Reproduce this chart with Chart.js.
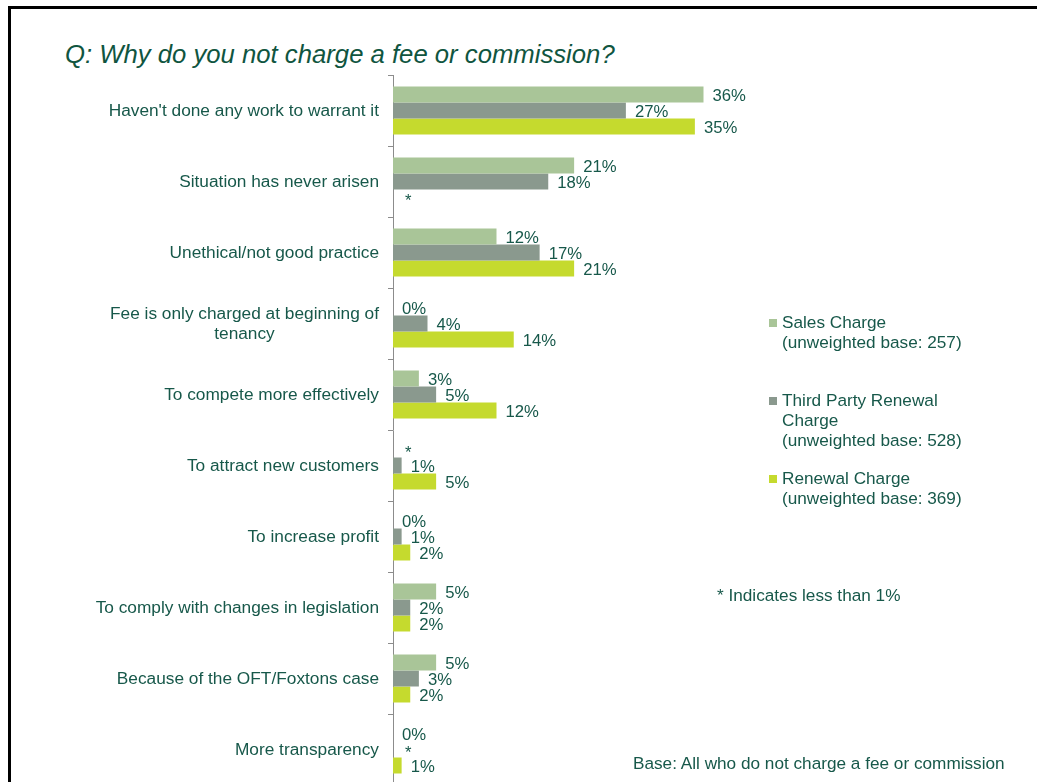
<!DOCTYPE html>
<html>
<head>
<meta charset="utf-8">
<script src="https://cdn.jsdelivr.net/npm/chart.js@4/dist/chart.umd.min.js"></script>
<style>
    html, body { margin: 0; padding: 0; background: #fff; overflow: hidden; }
    body { width: 1037px; height: 782px; position: relative; font-family: "Liberation Sans", Arial, sans-serif; color: #17584a; }
    #frame { position: absolute; left: 8px; top: 6px; right: -10px; bottom: -10px; border-top: 3px solid #000; border-left: 3px solid #000; }
    #title { position: absolute; left: 65px; top: 40px; font-size: 25.7px; font-style: italic; white-space: nowrap; color: #10553f; }
    #wrap { position: absolute; left: 0; top: 0; width: 1037px; height: 800px; }
    .legend-item { position: absolute; left: 782px; font-size: 17.2px; line-height: 20px; }
    .legend-item .box { position: absolute; left: -13px; top: 7px; width: 8px; height: 8px; }
    .note { position: absolute; font-size: 17.2px; line-height: 20px; white-space: nowrap; }
</style>
</head>
<body>
<div id="frame"></div>
<div id="title">Q: Why do you not charge a fee or commission?</div>
<div id="wrap"><canvas id="myChart"></canvas></div>
<div id="legend"></div>
<div class="note" style="left:717px; top:585px;">* Indicates less than 1%</div>
<div class="note" style="left:633px; top:753px;">Base: All who do not charge a fee or commission</div>

<script>
// Survey answers, % of respondents; '*' means less than 1%
const categories = [
    "Haven't done any work to warrant it",
    'Situation has never arisen',
    'Unethical/not good practice',
    ['Fee is only charged at beginning of', 'tenancy'],
    'To compete more effectively',
    'To attract new customers',
    'To increase profit',
    'To comply with changes in legislation',
    'Because of the OFT/Foxtons case',
    'More transparency'
];
const salesCharge       = [36, 21, 12, 0, 3, '*', 0, 5, 5, 0];
const thirdPartyRenewal = [27, 18, 17, 4, 5, 1, 1, 2, 3, '*'];
const renewalCharge     = [35, '*', 21, 14, 12, 5, 2, 2, 2, 1];

const seriesNames = [
    ['Sales Charge', '(unweighted base: 257)'],
    ['Third Party Renewal', 'Charge', '(unweighted base: 528)'],
    ['Renewal Charge', '(unweighted base: 369)']
];
const seriesColors = ['#a9c598', '#8a998e', '#c5da2e'];

const textColor = '#17584a';
const fontFamily = '"Liberation Sans", Arial, sans-serif';

// legend drawn as html text on the right
const legendTops = [312, 390, 468];
const legend = document.getElementById('legend');
seriesNames.forEach((lines, i) => {
    const item = document.createElement('div');
    item.className = 'legend-item';
    item.style.top = legendTops[i] + 'px';
    item.innerHTML = '<span class="box" style="background:' + seriesColors[i] + '"></span>' + lines.join('<br>');
    legend.appendChild(item);
});

function toNumbers(arr) {
    return arr.map(v => v === '*' ? 0 : v);
}
function toLabels(arr) {
    return arr.map(v => v === '*' ? '*' : v + '%');
}

const seriesValues = [salesCharge, thirdPartyRenewal, renewalCharge];

// value labels at the end of each bar + category labels (centered multi-line, right edge at axis)
const labelPlugin = {
    id: 'labelPlugin',
    afterDatasetsDraw(chart) {
        const ctx = chart.ctx;
        const xScale = chart.scales.x;
        const yScale = chart.scales.y;
        ctx.save();
        ctx.fillStyle = textColor;
        ctx.font = '16.7px ' + fontFamily;
        ctx.textBaseline = 'middle';
        ctx.textAlign = 'left';
        chart.data.datasets.forEach((ds, di) => {
            const meta = chart.getDatasetMeta(di);
            meta.data.forEach((bar, i) => {
                const text = ds.valueLabels[i];
                const x = Math.max(bar.x, xScale.getPixelForValue(0)) + 9;
                const y = text === '*' ? bar.y + 4 : bar.y + 2;
                ctx.fillText(text, text === '*' ? x + 3 : x, y);
            });
        });

        ctx.font = '17.3px ' + fontFamily;
        const right = yScale.right - 14;
        categories.forEach((label, i) => {
            const lines = Array.isArray(label) ? label : [label];
            const widths = lines.map(l => ctx.measureText(l).width);
            const maxW = Math.max(...widths);
            const cx = right - maxW / 2;
            const cy = yScale.getPixelForValue(i);
            const lh = 20;
            ctx.textAlign = 'center';
            lines.forEach((l, k) => {
                ctx.fillText(l, cx, cy + 1 + (k - (lines.length - 1) / 2) * lh);
            });
        });
        ctx.restore();
    }
};

const ctx = document.getElementById('myChart').getContext('2d');
new Chart(ctx, {
    type: 'bar',
    data: {
        labels: categories,
        datasets: seriesValues.map((vals, i) => ({
            label: seriesNames[i].join(' '),
            data: toNumbers(vals),
            valueLabels: toLabels(vals),
            backgroundColor: seriesColors[i],
            borderWidth: 0,
            categoryPercentage: 0.676,
            barPercentage: 1
        }))
    },
    options: {
        indexAxis: 'y',
        responsive: true,
        maintainAspectRatio: false,
        animation: false,
        layout: {
            padding: { top: 75, right: 299, bottom: 15, left: 0 }
        },
        scales: {
            x: {
                display: false,
                min: 0,
                max: 40
            },
            y: {
                afterFit(scale) { scale.width = 393; },
                ticks: { display: false },
                grid: {
                    drawOnChartArea: false,
                    drawTicks: true,
                    tickLength: 5,
                    offset: true,
                    color: '#8c8c8c'
                },
                border: { color: '#8c8c8c', width: 1 }
            }
        },
        plugins: {
            legend: { display: false },
            tooltip: { enabled: false }
        }
    },
    plugins: [labelPlugin]
});
</script>
</body>
</html>
